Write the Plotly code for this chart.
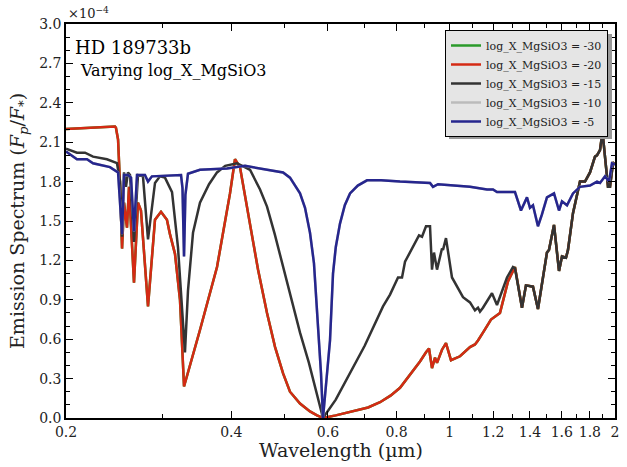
import plotly.graph_objects as go

# ---- data (wavelength in micron, emission in units of 1e-4) ----
wl_red = [0.200, 0.2456, 0.2466, 0.2488, 0.2509, 0.2530, 0.2551, 0.2583, 0.2605, 0.2660,
          0.2705, 0.2739, 0.2821, 0.2905, 0.2979, 0.3054, 0.3093, 0.3159, 0.3226, 0.3281,
          0.3508, 0.3768, 0.3979, 0.4063, 0.4149, 0.4237, 0.4327, 0.4475, 0.4647, 0.4807,
          0.4971, 0.5117, 0.5337, 0.5565, 0.5731, 0.5877, 0.6200, 0.6665, 0.7100, 0.7465,
          0.7800, 0.8118, 0.8828, 0.9053, 0.9168, 0.9283, 0.9401, 0.9480, 0.9681, 0.9844,
          1.0053, 1.0439, 1.0887, 1.1117, 1.1258, 1.1496, 1.1889, 1.2346, 1.2767, 1.3147]
fp_red = [2.20, 2.22, 2.21, 2.12, 1.77, 1.29, 1.64, 1.45, 1.76, 1.03,
          1.64, 1.58, 0.85, 1.51, 1.57, 1.51, 1.40, 1.25, 0.90, 0.24,
          0.67, 1.15, 1.71, 1.97, 1.91, 1.70, 1.49, 1.13, 0.80, 0.54,
          0.34, 0.20, 0.11, 0.05, 0.02, 0.00, 0.02, 0.05, 0.08, 0.12,
          0.17, 0.23, 0.43, 0.50, 0.53, 0.38, 0.46, 0.42, 0.52, 0.57,
          0.44, 0.47, 0.54, 0.56, 0.59, 0.65, 0.75, 0.80, 1.04, 1.15]

wl_black = [0.200, 0.2094, 0.2166, 0.2240, 0.2375, 0.2477, 0.2509, 0.2530, 0.2551, 0.2572,
            0.2594, 0.2616, 0.2660, 0.2705, 0.2762, 0.2821, 0.2905, 0.2966, 0.3029, 0.3120,
            0.3199, 0.3294, 0.3336, 0.3407, 0.3508, 0.3644, 0.3768, 0.3900, 0.4097, 0.4327,
            0.4513, 0.4647, 0.4800, 0.4971, 0.5150, 0.5337, 0.5540, 0.5731, 0.5877, 0.6200,
            0.6582, 0.7000, 0.7559, 0.7785, 0.8050, 0.8186, 0.8290, 0.8573, 0.8791, 0.8902,
            0.9053, 0.9206, 0.9283, 0.9361, 0.9480, 0.9681, 0.9721, 0.9844, 1.0095, 1.0572,
            1.0887, 1.1117, 1.1258, 1.1353, 1.1496, 1.1939, 1.2192, 1.2714, 1.3037, 1.3147]
fp_black = [2.05, 2.02, 2.02, 1.99, 1.97, 1.94, 1.80, 1.38, 1.87, 1.76,
            1.87, 1.85, 1.34, 1.85, 1.84, 1.36, 1.79, 1.84, 1.83, 1.72,
            1.30, 0.50, 0.97, 1.41, 1.64, 1.78, 1.87, 1.92, 1.94, 1.89,
            1.74, 1.61, 1.40, 1.15, 0.90, 0.65, 0.42, 0.19, 0.00, 0.14,
            0.34, 0.55, 0.85, 0.94, 1.07, 1.07, 1.19, 1.30, 1.39, 1.38,
            1.46, 1.46, 1.13, 1.26, 1.13, 1.29, 1.28, 1.37, 1.07, 0.92,
            0.88, 0.82, 0.84, 0.81, 0.84, 0.95, 0.86, 1.07, 1.15, 1.14]

# long-wavelength tail shared by the -30, -20 and -15 models
wl_tail = [1.3539, 1.3768, 1.4178, 1.4478, 1.5035, 1.5162, 1.5485, 1.5814, 1.6013, 1.6284,
           1.6421, 1.6769, 1.7269, 1.7636, 1.8009, 1.8391, 1.8546, 1.8781, 1.8939, 1.9019,
           1.9180, 1.9422, 1.9585, 1.9833, 1.9916]
fp_tail = [0.84, 1.01, 1.00, 0.83, 1.26, 1.28, 1.47, 1.12, 1.23, 1.22,
           1.28, 1.56, 1.80, 1.80, 1.87, 1.99, 2.00, 2.04, 2.15, 2.14,
           2.00, 1.76, 1.76, 1.94, 1.95]

wl_blue = [0.200, 0.2094, 0.2184, 0.2240, 0.2405, 0.2488, 0.2530, 0.2551, 0.2594, 0.2627,
           0.2660, 0.2694, 0.2785, 0.2821, 0.2868, 0.3186, 0.3240, 0.3260, 0.3281, 0.3300,
           0.3336, 0.3508, 0.3929, 0.4237, 0.4513, 0.4971, 0.5117, 0.5337, 0.5450, 0.5565,
           0.5658, 0.5731, 0.5828, 0.5877, 0.6052, 0.6129, 0.6200, 0.6311, 0.6440, 0.6582,
           0.6800, 0.7068, 0.7500, 0.8118, 0.9206, 0.9322, 0.9520, 1.0887, 1.1691, 1.1989,
           1.2192, 1.3147, 1.3482, 1.3826, 1.4000, 1.4178, 1.4478, 1.4723, 1.5035, 1.5485,
           1.5814, 1.6013, 1.6352, 1.6769, 1.7269, 1.8009, 1.8546, 1.8781, 1.9179, 1.9504,
           1.9750, 2.000]
fp_blue = [2.03, 1.97, 1.97, 1.94, 1.91, 1.87, 1.40, 1.85, 1.85, 1.83,
           1.42, 1.85, 1.85, 1.80, 1.84, 1.85, 1.85, 1.75, 1.23, 1.70,
           1.86, 1.89, 1.90, 1.92, 1.90, 1.87, 1.83, 1.71, 1.60, 1.41,
           1.18, 0.85, 0.34, 0.00, 0.59, 1.10, 1.30, 1.48, 1.62, 1.71,
           1.77, 1.81, 1.81, 1.80, 1.79, 1.76, 1.78, 1.76, 1.74, 1.74,
           1.72, 1.72, 1.58, 1.68, 1.60, 1.62, 1.46, 1.55, 1.68, 1.71,
           1.58, 1.65, 1.62, 1.71, 1.76, 1.77, 1.80, 1.79, 1.84, 1.80,
           1.94, 1.93]

labels = ["log_X_MgSiO3 = -30", "log_X_MgSiO3 = -20", "log_X_MgSiO3 = -15",
          "log_X_MgSiO3 = -10", "log_X_MgSiO3 = -5"]
colors = ["#2a9a2a", "#d42a14", "#333333", "#bbbbbb", "#26268e"]

x_tickvals = [0.2, 0.4, 0.6, 0.8, 1, 1.2, 1.4, 1.6, 1.8, 2]
x_ticktext = ["0.2", "0.4", "0.6", "0.8", "1", "1.2", "1.4", "1.6", "1.8", "2"]
x_minor = [0.3, 0.5, 0.7, 0.9, 1.1, 1.3, 1.5, 1.7, 1.9]
y_tickvals = [0.0, 0.3, 0.6, 0.9, 1.2, 1.5, 1.8, 2.1, 2.4, 2.7, 3.0]

series = [
    (wl_red + wl_tail, fp_red + fp_tail),        # -30 (identical to -20)
    (wl_red + wl_tail, fp_red + fp_tail),        # -20
    (wl_black + wl_tail, fp_black + fp_tail),    # -15
    (wl_blue, fp_blue),                          # -10 (hidden under -5)
    (wl_blue, fp_blue),                          # -5
]

FONT = "DejaVu Serif"
fig = go.Figure()
for (x, y), name, c in zip(series, labels, colors):
    fig.add_trace(go.Scatter(x=x, y=y, mode="lines", name=name,
                             line=dict(color=c, width=2.5)))

L, R, T, B = 66, 12, 24, 49
W, H = 627, 467
pw, ph = W - L - R, H - T - B

def px(xp): return (xp - L) / pw
def py(yp): return (H - B - yp) / ph

# legend shadow (matches the rendered legend box, offset by a few px)
lx0, lx1, ly0, ly1 = 445, 608, 30, 135
fig.add_shape(type="rect", xref="paper", yref="paper",
              x0=px(lx0 + 4), x1=px(lx1 + 4), y0=py(ly1 + 4), y1=py(ly0 + 4),
              fillcolor="#999999", line=dict(width=0), layer="above")

axis_common = dict(ticks="inside", ticklen=7, tickcolor="black",
                   showline=True, linecolor="black", linewidth=1.5, mirror="ticks",
                   showgrid=False, zeroline=False, automargin=False,
                   tickfont=dict(family=FONT, size=14, color="#222222"))

fig.update_layout(
    width=W, height=H,
    margin=dict(l=L, r=R, t=T, b=B),
    paper_bgcolor="white", plot_bgcolor="white",
    font=dict(family=FONT, color="#222222", size=14),
    showlegend=True,
    legend=dict(x=px(lx1), y=py(ly0), xanchor="right", yanchor="top",
                bgcolor="#e5e5e5", bordercolor="black", borderwidth=1,
                font=dict(family=FONT, size=11, color="#222222"),
                itemwidth=30, tracegroupgap=0),
    xaxis=dict(type="log", range=[-0.69897, 0.30103],
               tickmode="array", tickvals=x_tickvals, ticktext=x_ticktext,
               minor=dict(tickmode="array", tickvals=x_minor, ticks="inside",
                          ticklen=4, tickcolor="black", showgrid=False),
               **axis_common),
    yaxis=dict(range=[0, 3.0],
               tickmode="array", tickvals=y_tickvals,
               ticktext=[f"{v:.1f}" for v in y_tickvals],
               minor=dict(dtick=0.1, tick0=0, ticks="inside", ticklen=4,
                          tickcolor="black", showgrid=False),
               **axis_common),
)

fig.add_annotation(xref="paper", yref="paper", x=0.5, y=py(450), xanchor="center",
                   yanchor="middle", text="Wavelength (µm)", showarrow=False,
                   font=dict(family=FONT, size=19, color="#222222"))
fig.add_annotation(xref="paper", yref="paper", x=px(18), y=py(221), xanchor="center",
                   yanchor="middle", textangle=-90,
                   text="Emission Spectrum (<i>F</i><sub><i>p</i></sub>/<i>F</i><sub>*</sub>)",
                   showarrow=False, font=dict(family=FONT, size=19, color="#222222"))
fig.add_annotation(xref="paper", yref="paper", x=0, y=1, xanchor="left", yanchor="bottom",
                   text="×10<sup>−4</sup>", showarrow=False,
                   font=dict(family=FONT, size=13, color="#222222"), yshift=1)
fig.add_annotation(xref="paper", yref="paper", x=px(73), y=py(48), xanchor="left",
                   yanchor="middle", text="HD 189733b", showarrow=False,
                   font=dict(family=FONT, size=18, color="black"))
fig.add_annotation(xref="paper", yref="paper", x=px(78), y=py(71), xanchor="left",
                   yanchor="middle", text="Varying log_X_MgSiO3", showarrow=False,
                   font=dict(family=FONT, size=16, color="black"))

fig.write_html("out.html")
